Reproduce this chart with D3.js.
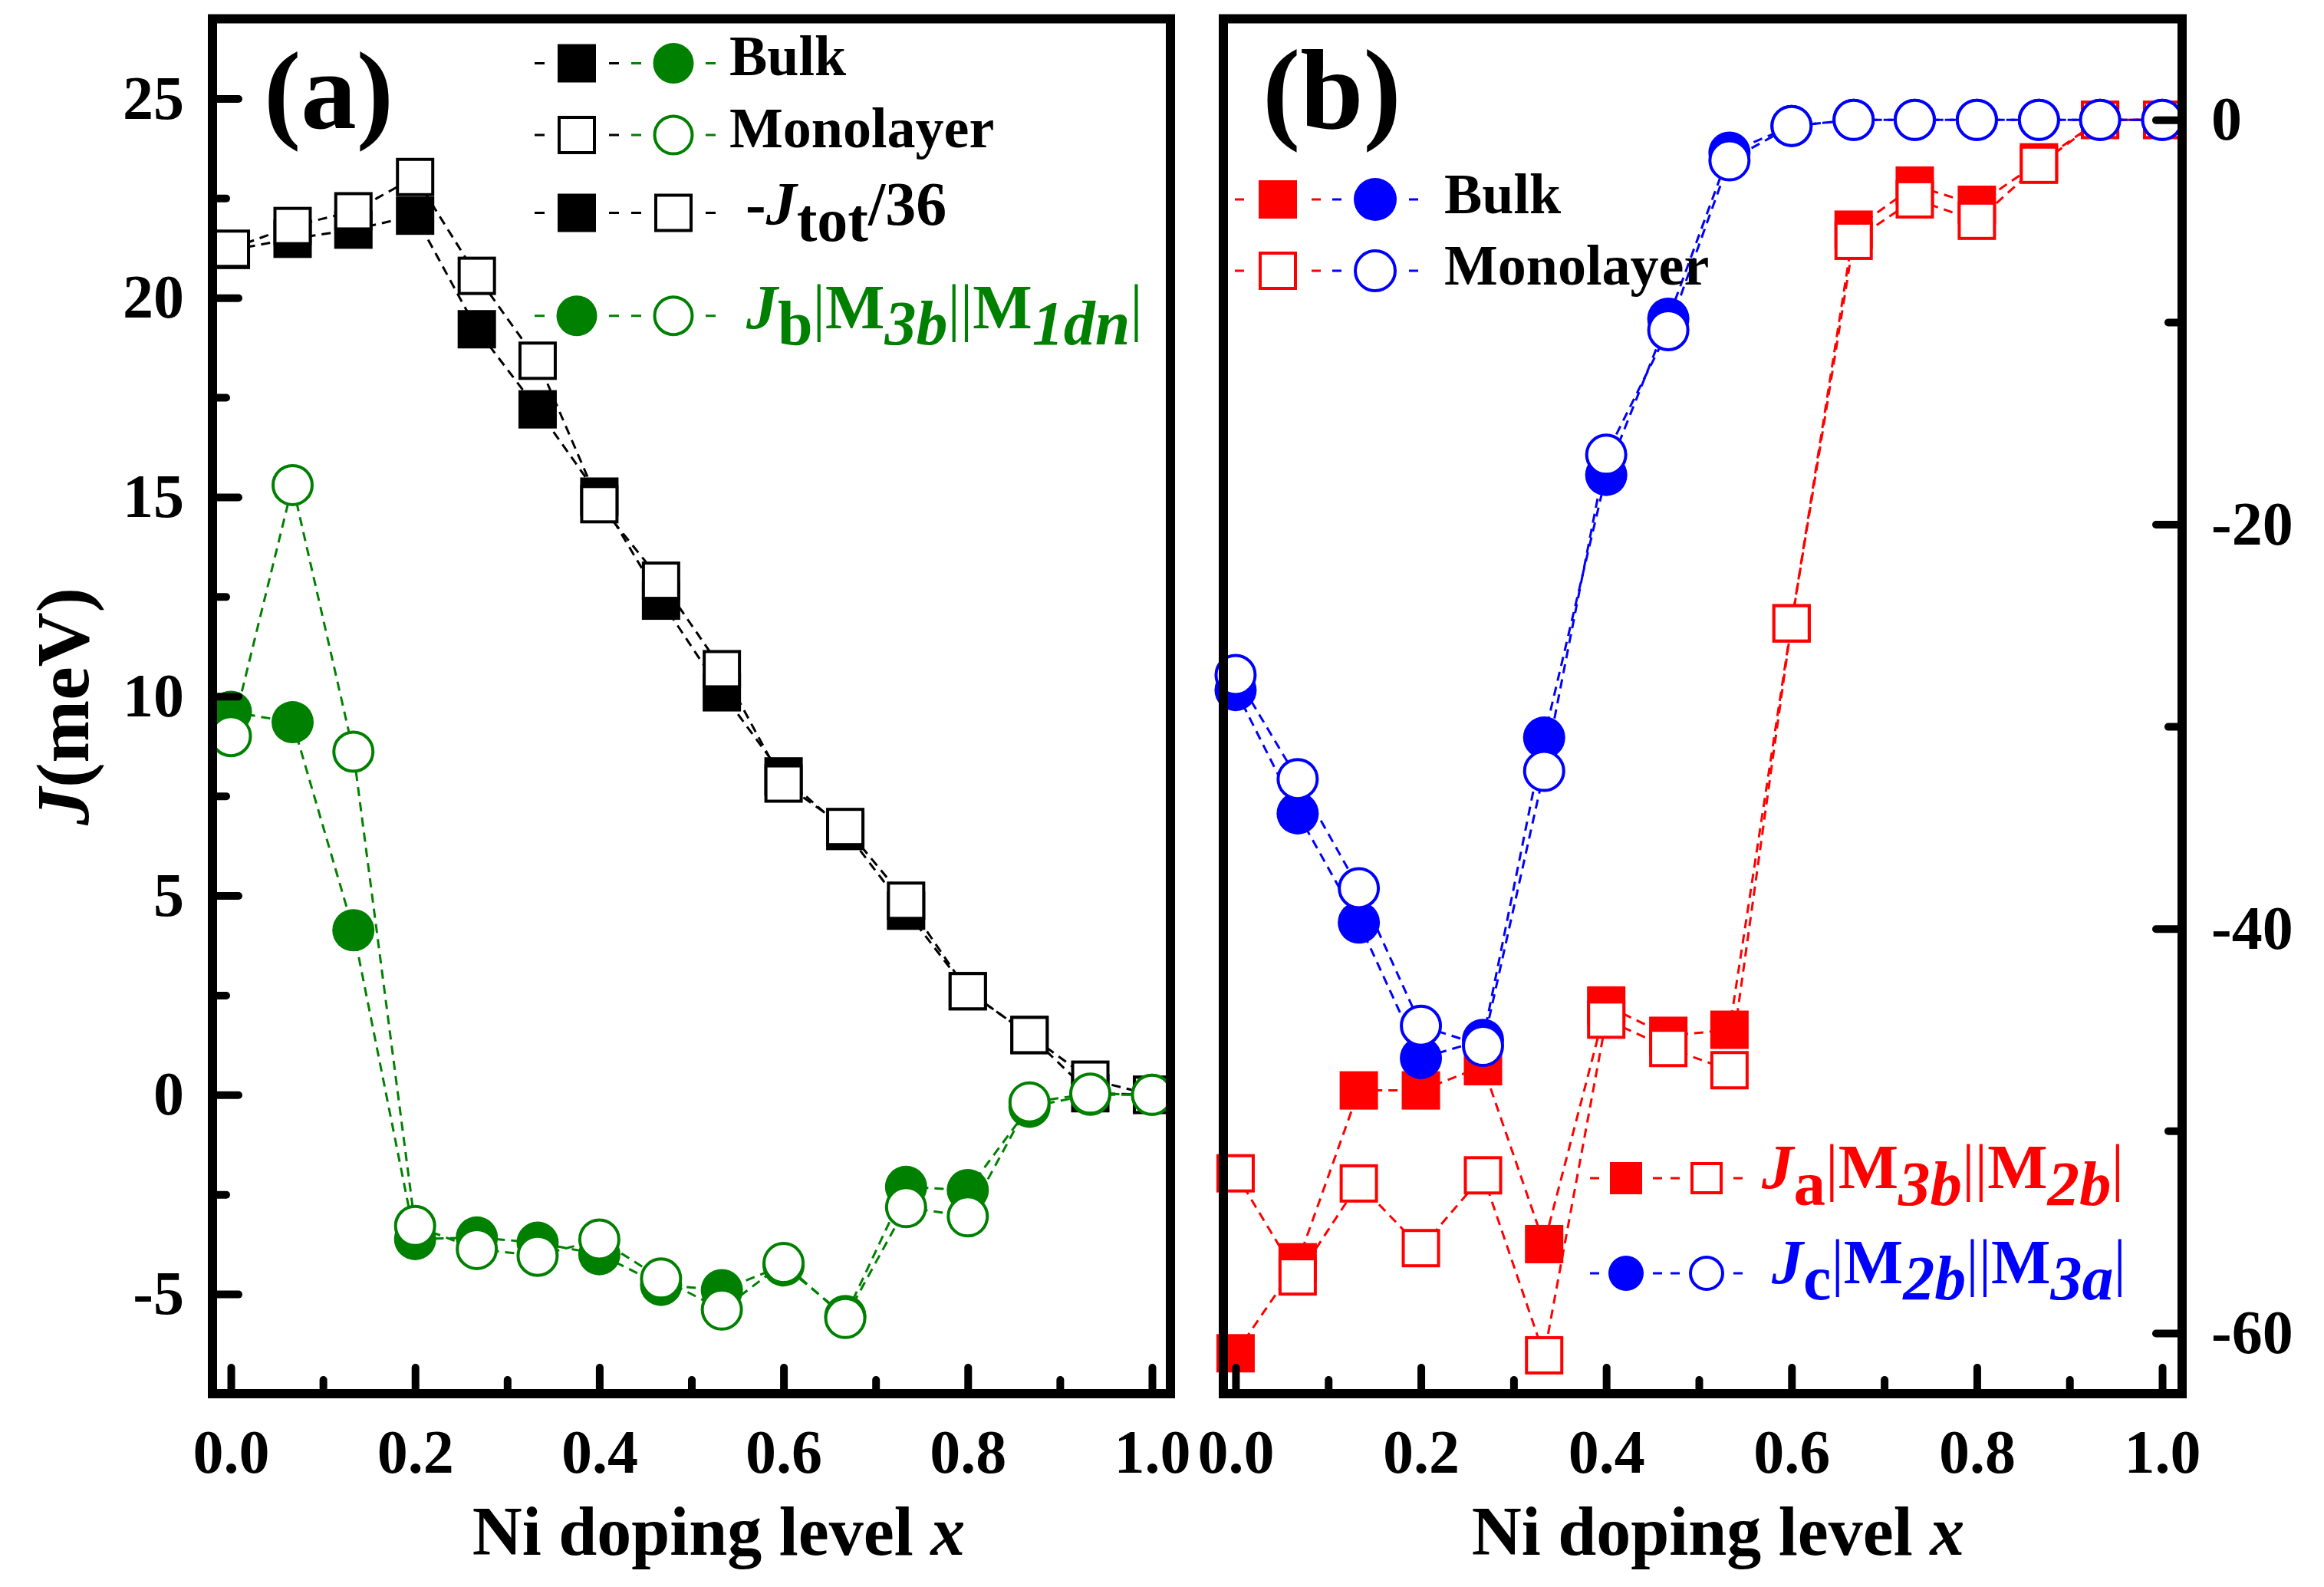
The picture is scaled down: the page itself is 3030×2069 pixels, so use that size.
<!DOCTYPE html>
<html>
<head>
<meta charset="utf-8">
<script src="https://cdn.jsdelivr.net/npm/d3@7"></script>
<style>
  body { margin: 0; background: #ffffff; }
  svg { display: block; }
</style>
</head>
<body>
<div id="chart"></div>
<script>
// Ni doping level x (shared by both panels)
var dopingX = [0, 0.067, 0.133, 0.2, 0.267, 0.333, 0.4, 0.467, 0.533, 0.6, 0.667, 0.733, 0.8, 0.867, 0.933, 1.0];

// panel (a): -Jtot/36 and Jb
var jtotBulk = [21.2, 21.48, 21.71, 22.06, 19.21, 17.2, 15.01, 12.4, 10.1, 7.99, 6.62, 4.62, 2.6, 1.5, 0.04, 0.0];
var jtotMono = [21.23, 21.8, 22.17, 23.03, 20.55, 18.42, 14.82, 12.9, 10.68, 7.81, 6.72, 4.87, 2.6, 1.5, 0.38, 0.0];
var jbBulk = [9.61, 9.35, 4.13, -3.62, -3.58, -3.71, -4.0, -4.77, -4.9, -4.28, -5.55, -2.31, -2.39, -0.3, 0.0, 0.0];
var jbMono = [9.0, 15.3, 8.61, -3.29, -3.87, -4.04, -3.63, -4.61, -5.39, -4.22, -5.6, -2.82, -3.05, -0.19, 0.03, 0.0];

// panel (b): Ja and Jc
var jaBulk = [-61.0, -56.5, -48.0, -48.0, -46.8, -55.6, -43.8, -45.3, -45.0, -24.9, -5.43, -3.25, -4.2, -2.1, 0.0, 0.0];
var jaMono = [-52.1, -57.2, -52.6, -55.8, -52.2, -61.1, -44.5, -45.9, -47.0, -24.9, -5.98, -3.93, -4.99, -2.22, 0.0, 0.0];
var jcBulk = [-28.2, -34.3, -39.7, -46.4, -45.5, -30.55, -17.56, -9.83, -1.62, -0.3, 0.0, 0.0, 0.0, 0.0, 0.0, 0.0];
var jcMono = [-27.45, -32.6, -38.0, -44.8, -45.8, -32.2, -16.56, -10.4, -2.0, -0.3, 0.0, 0.0, 0.0, 0.0, 0.0, 0.0];

// ticks
var xTicks = [0, 0.2, 0.4, 0.6, 0.8, 1.0];
var xMinorTicks = [0.1, 0.3, 0.5, 0.7, 0.9];
var yTicksA = [-5, 0, 5, 10, 15, 20, 25];
var yMinorTicksA = [-2.5, 2.5, 7.5, 12.5, 17.5, 22.5];
var yTicksB = [0, -20, -40, -60];
var yMinorTicksB = [-10, -30, -50];

// texts
var panelLabels = ["(a)", "(b)"];
var legendWords = ["Bulk", "Monolayer"];
var xTitle = [{text: "Ni doping level "}, {text: "x", italic: true}];
var yTitle = [{text: "J", italic: true}, {text: "(meV)"}];
var legendJtot = [{text: "-"}, {text: "J", italic: true}, {text: "tot", sub: true}, {text: "/36"}];
var legendJb = [{text: "J", italic: true}, {text: "b", sub: true}, {text: "|", thin: true}, {text: "M"},
  {text: "3b", italic: true, sub: true}, {text: "||", thin: true}, {text: "M"},
  {text: "1dn", italic: true, sub: true}, {text: "|", thin: true}];
var legendJa = [{text: "J", italic: true}, {text: "a", sub: true}, {text: "|", thin: true}, {text: "M"},
  {text: "3b", italic: true, sub: true}, {text: "||", thin: true}, {text: "M"},
  {text: "2b", italic: true, sub: true}, {text: "|", thin: true}];
var legendJc = [{text: "J", italic: true}, {text: "c", sub: true}, {text: "|", thin: true}, {text: "M"},
  {text: "2b", italic: true, sub: true}, {text: "||", thin: true}, {text: "M"},
  {text: "3a", italic: true, sub: true}, {text: "|", thin: true}];

var FONT = "'Liberation Serif', 'Times New Roman', serif";
var GREEN = "#008000", RED = "#ff0000", BLUE = "#0000ff", BLACK = "#000000";

var svg, xScaleA, yScaleA, xScaleB, yScaleB;

createSVG();
makeScales();
drawPanelA();
drawPanelB();
drawFrames();
drawAxisTitles();
drawLegends();

function createSVG() {
  svg = d3.select("#chart")
    .append("svg")
    .attr("width", 3030)
    .attr("height", 2069)
    .style("background", "#fff");
}

function makeScales() {
  xScaleA = d3.scaleLinear().domain([-0.02, 1.02]).range([277, 1526]);
  yScaleA = d3.scaleLinear().domain([-7.5, 27]).range([1817, 24.5]);
  xScaleB = d3.scaleLinear().domain([-0.0132, 1.0215]).range([1595, 2845]);
  yScaleB = d3.scaleLinear().domain([-63, 5]).range([1817, 24.5]);
}

// plain hyphen for negatives, like the original
function intLabel(d) {
  return String(d);
}

function toPoints(values) {
  return values.map(function(v, i) {
    return {x: dopingX[i], y: v};
  });
}

function drawLine(g, xs, ys, values, color) {
  var line = d3.line()
    .x(function(d) { return xs(d.x); })
    .y(function(d) { return ys(d.y); });
  g.append("path")
    .datum(toPoints(values))
    .attr("d", line)
    .attr("fill", "none")
    .attr("stroke", color)
    .attr("stroke-width", 3)
    .attr("stroke-dasharray", "12,8");
}

function addMarker(g, cx, cy, shape, filled, color, size) {
  if (shape == "square") {
    if (filled) {
      g.append("rect")
        .attr("x", cx - size / 2).attr("y", cy - size / 2)
        .attr("width", size).attr("height", size)
        .attr("fill", color);
    } else {
      g.append("rect")
        .attr("x", cx - size / 2 + 2).attr("y", cy - size / 2 + 2)
        .attr("width", size - 4).attr("height", size - 4)
        .attr("fill", "#fff")
        .attr("stroke", color)
        .attr("stroke-width", 4);
    }
  } else {
    if (filled) {
      g.append("circle")
        .attr("cx", cx).attr("cy", cy).attr("r", size / 2)
        .attr("fill", color);
    } else {
      g.append("circle")
        .attr("cx", cx).attr("cy", cy).attr("r", size / 2 - 2)
        .attr("fill", "#fff")
        .attr("stroke", color)
        .attr("stroke-width", 4);
    }
  }
}

function drawMarkers(g, xs, ys, values, shape, filled, color, size) {
  toPoints(values).forEach(function(d) {
    addMarker(g, xs(d.x), ys(d.y), shape, filled, color, size);
  });
}

function styleAxis(g) {
  g.select(".domain").remove();
  g.attr("font-family", FONT)
    .attr("font-size", 80)
    .attr("font-weight", "bold")
    .attr("color", BLACK);
  g.selectAll(".tick line")
    .attr("stroke-width", 10)
    .attr("stroke-linecap", "round");
}

function drawBottomAxis(xs) {
  var major = svg.append("g")
    .attr("transform", "translate(0,1817)")
    .call(d3.axisBottom(xs).tickValues(xTicks).tickSizeInner(-34).tickSizeOuter(0)
      .tickPadding(46).tickFormat(d3.format(".1f")));
  styleAxis(major);
  var minor = svg.append("g")
    .attr("transform", "translate(0,1817)")
    .call(d3.axisBottom(xs).tickValues(xMinorTicks).tickSizeInner(-18).tickSizeOuter(0)
      .tickFormat(""));
  styleAxis(minor);
}

function drawPanelA() {
  var g = svg.append("g").attr("class", "panelA");

  var yAxis = svg.append("g")
    .attr("transform", "translate(277,0)")
    .call(d3.axisLeft(yScaleA).tickValues(yTicksA).tickSizeInner(-34).tickSizeOuter(0)
      .tickPadding(37).tickFormat(intLabel));
  styleAxis(yAxis);
  var yMinor = svg.append("g")
    .attr("transform", "translate(277,0)")
    .call(d3.axisLeft(yScaleA).tickValues(yMinorTicksA).tickSizeInner(-18).tickSizeOuter(0)
      .tickFormat(""));
  styleAxis(yMinor);
  drawBottomAxis(xScaleA);

  drawLine(g, xScaleA, yScaleA, jtotBulk, BLACK);
  drawLine(g, xScaleA, yScaleA, jtotMono, BLACK);
  drawLine(g, xScaleA, yScaleA, jbBulk, GREEN);
  drawLine(g, xScaleA, yScaleA, jbMono, GREEN);

  drawMarkers(g, xScaleA, yScaleA, jtotBulk, "square", true, BLACK, 50);
  drawMarkers(g, xScaleA, yScaleA, jtotMono, "square", false, BLACK, 50);
  drawMarkers(g, xScaleA, yScaleA, jbBulk, "circle", true, GREEN, 55);
  drawMarkers(g, xScaleA, yScaleA, jbMono, "circle", false, GREEN, 55);
}

function drawPanelB() {
  var g = svg.append("g").attr("class", "panelB");

  var yAxis = svg.append("g")
    .attr("transform", "translate(2845,0)")
    .call(d3.axisRight(yScaleB).tickValues(yTicksB).tickSizeInner(-34).tickSizeOuter(0)
      .tickPadding(38).tickFormat(intLabel));
  styleAxis(yAxis);
  var yMinor = svg.append("g")
    .attr("transform", "translate(2845,0)")
    .call(d3.axisRight(yScaleB).tickValues(yMinorTicksB).tickSizeInner(-18).tickSizeOuter(0)
      .tickFormat(""));
  styleAxis(yMinor);
  drawBottomAxis(xScaleB);

  drawLine(g, xScaleB, yScaleB, jaBulk, RED);
  drawLine(g, xScaleB, yScaleB, jaMono, RED);
  drawLine(g, xScaleB, yScaleB, jcBulk, BLUE);
  drawLine(g, xScaleB, yScaleB, jcMono, BLUE);

  drawMarkers(g, xScaleB, yScaleB, jaBulk, "square", true, RED, 50);
  drawMarkers(g, xScaleB, yScaleB, jaMono, "square", false, RED, 50);
  drawMarkers(g, xScaleB, yScaleB, jcBulk, "circle", true, BLUE, 55);
  drawMarkers(g, xScaleB, yScaleB, jcMono, "circle", false, BLUE, 55);
}

function drawFrames() {
  [[xScaleA, yScaleA], [xScaleB, yScaleB]].forEach(function(s) {
    var x0 = s[0].range()[0], x1 = s[0].range()[1];
    var y0 = s[1].range()[1], y1 = s[1].range()[0];
    svg.append("rect")
      .attr("x", x0).attr("y", y0)
      .attr("width", x1 - x0).attr("height", y1 - y0)
      .attr("fill", "none")
      .attr("stroke", BLACK)
      .attr("stroke-width", 12);
  });
}

function addRichText(parent, x, y, size, color, parts) {
  var text = parent.append("text")
    .attr("x", x).attr("y", y)
    .attr("font-family", FONT)
    .attr("font-size", size)
    .attr("fill", color);
  var shift = 0;
  parts.forEach(function(p) {
    var target = p.sub ? Math.round(size * 0.26) : 0;
    text.append("tspan")
      .attr("dy", target - shift)
      .attr("font-style", p.italic ? "italic" : "normal")
      .attr("font-weight", p.thin ? "normal" : "bold")
      .text(p.text);
    shift = target;
  });
  return text;
}

function drawAxisTitles() {
  addRichText(svg, 937, 2027, 90, BLACK, xTitle).attr("text-anchor", "middle");
  addRichText(svg, 2240, 2027, 90, BLACK, xTitle).attr("text-anchor", "middle");
  addRichText(svg, 0, 0, 98, BLACK, yTitle)
    .attr("text-anchor", "middle")
    .attr("transform", "translate(115,921) rotate(-90)");

  svg.append("text")
    .attr("x", 344).attr("y", 167)
    .attr("font-family", FONT).attr("font-size", 145).attr("font-weight", "bold")
    .text(panelLabels[0]);
  svg.append("text")
    .attr("x", 1646).attr("y", 167)
    .attr("font-family", FONT).attr("font-size", 148).attr("font-weight", "bold")
    .text(panelLabels[1]);
}

function legendSymbol(g, cx, cy, shape, filled, color, size, reach, dash) {
  g.append("line")
    .attr("x1", cx - reach).attr("x2", cx + reach)
    .attr("y1", cy).attr("y2", cy)
    .attr("stroke", color)
    .attr("stroke-width", 3)
    .attr("stroke-dasharray", dash + "," + (2 * reach - 2 * dash) + "," + dash);
  addMarker(g, cx, cy, shape, filled, color, size);
}

function drawLegends() {
  var g = svg.append("g").attr("class", "legends");

  // panel (a)
  legendSymbol(g, 752, 82.5, "square", true, BLACK, 50, 55, 13);
  legendSymbol(g, 878, 82.5, "circle", true, GREEN, 53, 55, 13);
  legendSymbol(g, 752, 176, "square", false, BLACK, 50, 55, 13);
  legendSymbol(g, 878, 176, "circle", false, GREEN, 53, 55, 13);
  legendSymbol(g, 752, 277.5, "square", true, BLACK, 50, 55, 13);
  legendSymbol(g, 878, 277.5, "square", false, BLACK, 50, 55, 13);
  legendSymbol(g, 752, 411.7, "circle", true, GREEN, 53, 55, 13);
  legendSymbol(g, 878, 411.7, "circle", false, GREEN, 53, 55, 13);

  g.append("text").attr("x", 951).attr("y", 98)
    .attr("font-family", FONT).attr("font-size", 74).attr("font-weight", "bold")
    .text(legendWords[0]);
  g.append("text").attr("x", 951).attr("y", 192)
    .attr("font-family", FONT).attr("font-size", 74).attr("font-weight", "bold")
    .text(legendWords[1]);
  addRichText(g, 972, 293, 80, BLACK, legendJtot);
  addRichText(g, 973, 428, 82, GREEN, legendJb);

  // panel (b), top
  legendSymbol(g, 1666, 260, "square", true, RED, 50, 56, 12);
  legendSymbol(g, 1793, 260, "circle", true, BLUE, 56, 56, 12);
  legendSymbol(g, 1666, 353, "square", false, RED, 50, 56, 12);
  legendSymbol(g, 1793, 353, "circle", false, BLUE, 56, 56, 12);

  g.append("text").attr("x", 1883).attr("y", 278)
    .attr("font-family", FONT).attr("font-size", 74).attr("font-weight", "bold")
    .text(legendWords[0]);
  g.append("text").attr("x", 1883).attr("y", 371)
    .attr("font-family", FONT).attr("font-size", 74).attr("font-weight", "bold")
    .text(legendWords[1]);

  // panel (b), bottom
  legendSymbol(g, 2120, 1536, "square", true, RED, 42, 47, 12);
  legendSymbol(g, 2225, 1536, "square", false, RED, 42, 47, 12);
  legendSymbol(g, 2120, 1660, "circle", true, BLUE, 46, 47, 12);
  legendSymbol(g, 2225, 1660, "circle", false, BLUE, 46, 47, 12);

  addRichText(g, 2297, 1549, 83, RED, legendJa);
  addRichText(g, 2310, 1673, 82, BLUE, legendJc);
}
</script>
</body>
</html>
